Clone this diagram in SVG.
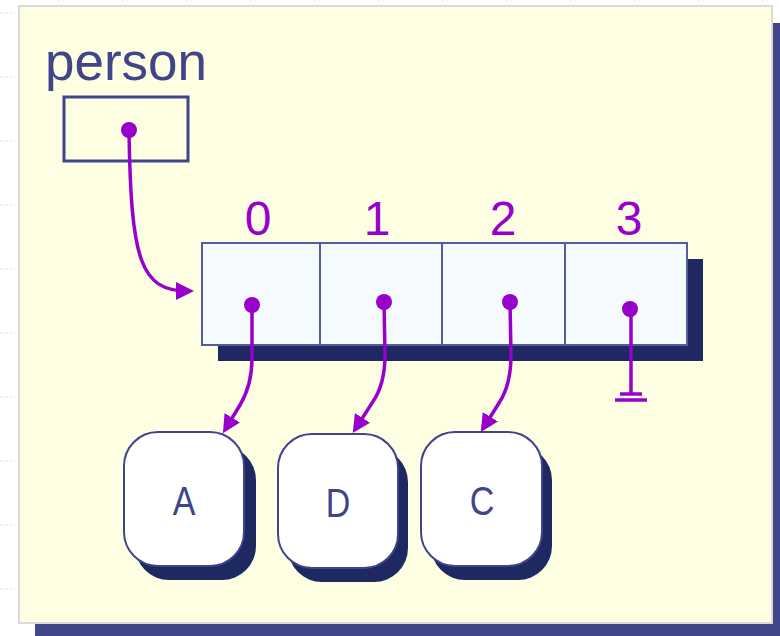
<svg xmlns="http://www.w3.org/2000/svg" width="780" height="636" viewBox="0 0 780 636">
<defs>
<style>
.tick{stroke:#dde2f5;stroke-width:1;stroke-dasharray:3 2}
.panel{fill:#fefee3;stroke:#d9d9d9;stroke-width:2}
.pshadow{fill:#414589}
.label{font-family:"Liberation Sans",Arial,sans-serif;fill:#404488}
.idx{font-family:"Liberation Sans",Arial,sans-serif;font-size:48px;fill:#9900cc;text-anchor:middle}
.cell{fill:#f5faff;stroke:#535c9c;stroke-width:2}
.ashadow{fill:#1d2960}
.node{fill:#ffffff;stroke:#404488;stroke-width:2}
.nshadow{fill:#1d2960}
.nlabel{font-family:"Liberation Sans",Arial,sans-serif;font-size:40px;fill:#404488;text-anchor:middle}
.wire{fill:none;stroke:#9900cc;stroke-width:3.5}
.dot{fill:#9900cc}
</style>
<marker id="arr" viewBox="0 0 18 18" refX="12" refY="9" markerWidth="18" markerHeight="18" markerUnits="userSpaceOnUse" orient="auto">
<path d="M0,0 L18,9 L0,18 z" fill="#9900cc"/>
</marker>
</defs>

<g id="ticks">
<line class="tick" x1="57" y1="1" x2="63" y2="1"/>
<line class="tick" x1="121" y1="1" x2="127" y2="1"/>
<line class="tick" x1="185" y1="1" x2="191" y2="1"/>
<line class="tick" x1="249" y1="1" x2="255" y2="1"/>
<line class="tick" x1="313" y1="1" x2="319" y2="1"/>
<line class="tick" x1="377" y1="1" x2="383" y2="1"/>
<line class="tick" x1="441" y1="1" x2="447" y2="1"/>
<line class="tick" x1="505" y1="1" x2="511" y2="1"/>
<line class="tick" x1="569" y1="1" x2="575" y2="1"/>
<line class="tick" x1="633" y1="1" x2="639" y2="1"/>
<line class="tick" x1="697" y1="1" x2="703" y2="1"/>
<line class="tick" x1="761" y1="1" x2="767" y2="1"/>
<line class="tick" x1="0" y1="13" x2="16" y2="13"/>
<line class="tick" x1="0" y1="77" x2="16" y2="77"/>
<line class="tick" x1="0" y1="141" x2="16" y2="141"/>
<line class="tick" x1="0" y1="205" x2="16" y2="205"/>
<line class="tick" x1="0" y1="269" x2="16" y2="269"/>
<line class="tick" x1="0" y1="333" x2="16" y2="333"/>
<line class="tick" x1="0" y1="397" x2="16" y2="397"/>
<line class="tick" x1="0" y1="461" x2="16" y2="461"/>
<line class="tick" x1="0" y1="525" x2="16" y2="525"/>
<line class="tick" x1="0" y1="589" x2="16" y2="589"/>
</g>

<g id="panel">
<rect class="pshadow" x="35" y="23" width="753" height="617"/>
<rect class="panel" x="19" y="6" width="753" height="617"/>
</g>

<g id="person">
<text class="label" x="45" y="80" font-size="53">person</text>
<rect x="64" y="97" width="124" height="64" fill="none" stroke="#404488" stroke-width="3"/>
</g>

<g id="array">
<rect class="ashadow" x="218" y="259" width="485" height="102"/>
<rect class="cell" x="202" y="243" width="118" height="102"/>
<rect class="cell" x="320" y="243" width="122" height="102"/>
<rect class="cell" x="442" y="243" width="123" height="102"/>
<rect class="cell" x="565" y="243" width="122" height="102"/>
<text class="idx" x="258" y="235">0</text>
<text class="idx" x="377" y="235">1</text>
<text class="idx" x="503" y="235">2</text>
<text class="idx" x="629" y="235">3</text>
</g>

<g id="nodeA">
<rect class="nshadow" x="135" y="446" width="121" height="134" rx="34"/>
<rect class="node" x="124" y="432" width="120" height="134" rx="34"/>
<text class="nlabel" transform="translate(184,515) scale(0.85,1)">A</text>
</g>
<g id="nodeD">
<rect class="nshadow" x="288" y="448" width="120" height="134" rx="34"/>
<rect class="node" x="278" y="434" width="120" height="134" rx="34"/>
<text class="nlabel" transform="translate(338,517) scale(0.85,1)">D</text>
</g>
<g id="nodeC">
<rect class="nshadow" x="431" y="446" width="121" height="134" rx="34"/>
<rect class="node" x="421" y="432" width="121" height="134" rx="34"/>
<text class="nlabel" transform="translate(482,515) scale(0.85,1)">C</text>
</g>

<g id="connectors">
<path class="wire" d="M129,130 C131,260 140,291 188,291" marker-end="url(#arr)"/>
<circle class="dot" cx="129" cy="130" r="8"/>
<path class="wire" d="M252,305 L252,358 Q252,385 240,405 L226,428" marker-end="url(#arr)"/>
<circle class="dot" cx="252" cy="305" r="8"/>
<path class="wire" d="M384,302 L385,355 Q385,385 372,403 L356,428" marker-end="url(#arr)"/>
<circle class="dot" cx="384" cy="302" r="8"/>
<path class="wire" d="M510,302 L511,355 Q511,385 499,403 L484,427" marker-end="url(#arr)"/>
<circle class="dot" cx="510" cy="302" r="8"/>
<path class="wire" d="M631,310 L631,394"/>
<circle class="dot" cx="630" cy="309" r="8"/>
<line class="wire" x1="620" y1="394" x2="642" y2="394"/>
<line class="wire" x1="615" y1="400" x2="647" y2="400"/>
</g>
</svg>
